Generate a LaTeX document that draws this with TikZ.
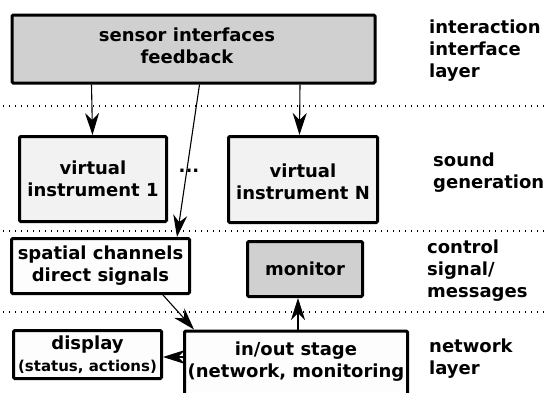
\documentclass[tikz,border=0pt]{standalone}
\usepackage{fontspec}
\setmainfont{DejaVu Sans}
\usetikzlibrary{arrows.meta}
\definecolor{boxgray}{HTML}{D0D0D0}
\definecolor{boxlight}{HTML}{F2F2F2}
\definecolor{boxwhite}{HTML}{FDFDFD}
\begin{document}
\begin{tikzpicture}[x=1pt,y=-1pt,
  font=\bfseries\fontsize{18}{22}\selectfont,
  box/.style={draw, line width=3pt, rounded corners=1.2pt, align=center, inner sep=0pt},
  txt/.style={align=center, inner sep=0pt},
  layerlbl/.style={anchor=west, align=left, inner sep=0pt},
  arr/.style={-{Stealth[length=22pt,width=14pt,inset=7pt]}, line width=1.1pt},
  sep/.style={line width=1.2pt, dash pattern=on 1.2pt off 4.8pt}]
\useasboundingbox (0,0) rectangle (547,392);
\fill[white] (0,0) rectangle (547,392);
% separators
\draw[sep] (3,106) -- (547,106);
\draw[sep] (3,231) -- (547,231);
\draw[sep] (3,312) -- (547,312);
% boxes
\node[box, fill=boxgray, minimum width=363pt, minimum height=68pt] (top) at (193.5,49) {};
\node[txt] (toptext) at (187,46) {sensor interfaces\\feedback};
\node[box, fill=boxlight, minimum width=147pt, minimum height=85pt] (vi1) at (93,179) {virtual\\instrument 1};
\node[box, fill=boxlight, minimum width=149pt, minimum height=86pt] (vin) at (303,179.5) {};
\node[txt] (vintext) at (303,182) {virtual\\instrument N};
\node[inner sep=0pt] (dots) at (189,171) {...};
\node[box, fill=boxwhite, minimum width=178pt, minimum height=55pt] (spat) at (100.5,266) {spatial channels\\direct signals};
\node[box, fill=boxgray, minimum width=115pt, minimum height=55pt] (mon) at (305,269) {monitor};
\node[box, fill=boxwhite, minimum width=148pt, minimum height=48pt] (disp) at (87.5,354.5) {display\\{\fontsize{15}{17}\selectfont (status, actions)}};
\node[box, fill=boxwhite, minimum width=223pt, minimum height=80pt, anchor=north] (io) at (296,329.5) {};
\node[txt] (iotext) at (296,361.5) {in/out stage\\(network, monitoring};
% layer labels
\node[layerlbl] (l1) at (429,51) {interaction\\interface\\layer};
\node[layerlbl] (l2) at (433,173) {sound\\generation};
\node[layerlbl] (l3) at (427,271) {control\\signal/\\messages};
\node[layerlbl] (l4) at (429,359) {network\\layer};
% connectors
\draw[arr] ([xshift=81pt]top.south west) -- ([xshift=74.5pt]vi1.north west);
\draw[arr] ([xshift=289.5pt]top.south west) -- ([xshift=72.5pt]vin.north west);
\draw[arr] ([xshift=189pt]top.south west) -- ([xshift=167pt]spat.north west);
\draw[arr] ([xshift=153pt]spat.south west) -- ([xshift=11pt]io.north west);
\draw[arr] (io.west |- 0,357) -- (disp.east |- 0,357);
\draw[arr] (io.north -| 298,0) -- (mon.south -| 298,0);
\end{tikzpicture}
\end{document}
